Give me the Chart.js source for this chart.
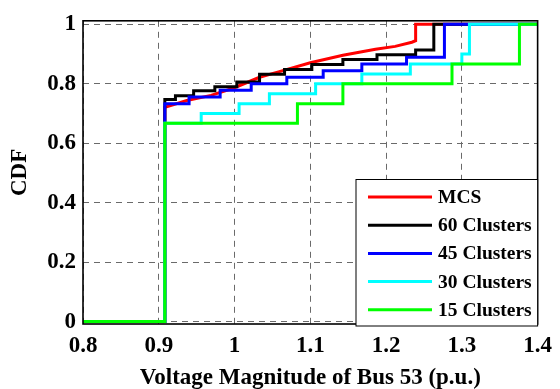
<!DOCTYPE html>
<html>
<head>
<meta charset="utf-8">
<title>CDF of bus voltage</title>
<script src="https://cdn.jsdelivr.net/npm/chart.js@4.4.0/dist/chart.umd.min.js"></script>
<style>
  html, body { margin: 0; padding: 0; background: #fff; }
  canvas { display: block; }
</style>
</head>
<body>
<canvas id="cdfChart" width="560" height="389"></canvas>
<script>
// Axis ticks
const xTickValues = [0.8, 0.9, 1.0, 1.1, 1.2, 1.3, 1.4];
const xTickLabels = ['0.8', '0.9', '1', '1.1', '1.2', '1.3', '1.4'];
const yTickValues = [0, 0.2, 0.4, 0.6, 0.8, 1];
const yTickLabels = ['0', '0.2', '0.4', '0.6', '0.8', '1'];

// Series names (legend order) and colours
const seriesNames = ['MCS', '60 Clusters', '45 Clusters', '30 Clusters', '15 Clusters'];
const seriesColors = ['#ff0000', '#000000', '#0000ff', '#00ffff', '#00ff00'];

// MCS empirical CDF: voltage (p.u.) and cumulative probability
const mcsVolt = [0.8, 0.908, 0.908, 0.937, 0.969, 0.999, 1.033, 1.058, 1.1, 1.143, 1.186, 1.212, 1.234, 1.239, 1.239, 1.4];
const mcsProb = [0, 0, 0.721, 0.744, 0.761, 0.786, 0.822, 0.84, 0.871, 0.896, 0.916, 0.926, 0.94, 0.945, 1, 1];

// Clustered CDFs: voltage where each step happens and the level after it
const c60Volt = [0.8, 0.908, 0.922, 0.946, 0.974, 1.003, 1.033, 1.066, 1.102, 1.143, 1.188, 1.239, 1.263, 1.4];
const c60Prob = [0, 0.747, 0.76, 0.777, 0.79, 0.806, 0.832, 0.848, 0.865, 0.882, 0.898, 0.914, 1, 1];

const c45Volt = [0.8, 0.908, 0.940, 0.981, 1.022, 1.069, 1.117, 1.168, 1.227, 1.277, 1.4];
const c45Prob = [0, 0.733, 0.756, 0.778, 0.8, 0.822, 0.844, 0.867, 0.889, 1, 1];

const c30Volt = [0.8, 0.908, 0.956, 1.006, 1.046, 1.107, 1.168, 1.232, 1.300, 1.310, 1.4];
const c30Prob = [0, 0.667, 0.7, 0.733, 0.767, 0.8, 0.833, 0.867, 0.9, 1, 1];

const c15Volt = [0.8, 0.908, 1.083, 1.143, 1.287, 1.376, 1.4];
const c15Prob = [0, 0.667, 0.733, 0.8, 0.867, 1, 1];

const toPoints = (xs, ys) => xs.map((v, i) => ({ x: v, y: ys[i] }));
const seriesData = [
    toPoints(mcsVolt, mcsProb),
    toPoints(c60Volt, c60Prob),
    toPoints(c45Volt, c45Prob),
    toPoints(c30Volt, c30Prob),
    toPoints(c15Volt, c15Prob)
];

const FONT = '"Liberation Serif", "Times New Roman", serif';
const tickFont = { family: FONT, size: 23, weight: 'bold' };
const titleFont = { family: FONT, size: 23, weight: 'bold', lineHeight: 1 };

// Black box around the plot area
const axesBox = {
    id: 'axesBox',
    afterDatasetsDraw: (chart) => {
        const { ctx, chartArea: a } = chart;
        ctx.save();
        ctx.strokeStyle = '#000';
        ctx.lineWidth = 1.6;
        ctx.strokeRect(a.left, a.top, a.right - a.left, a.bottom - a.top);
        ctx.restore();
    }
};

// Boxed legend in the lower right corner of the axes
const boxLegend = {
    id: 'boxLegend',
    afterDraw: (chart) => {
        const { ctx, chartArea: a } = chart;
        const left = 356, top = 179.5, bottom = 326;
        ctx.save();
        ctx.fillStyle = '#fff';
        ctx.fillRect(left, top, a.right - left, bottom - top);
        ctx.strokeStyle = '#000';
        ctx.lineWidth = 1;
        ctx.strokeRect(left, top, a.right - left, bottom - top);
        ctx.font = 'bold 19.5px ' + FONT;
        ctx.textBaseline = 'middle';
        ctx.fillStyle = '#000';
        chart.data.datasets.forEach((ds, i) => {
            const rowY = 197 + i * 28.2;
            ctx.strokeStyle = ds.borderColor;
            ctx.lineWidth = 3;
            ctx.beginPath();
            ctx.moveTo(368, rowY);
            ctx.lineTo(432, rowY);
            ctx.stroke();
            ctx.fillText(ds.label, 438, rowY + 1);
        });
        ctx.restore();
    }
};

const ctx = document.getElementById('cdfChart').getContext('2d');
const cdfChart = new Chart(ctx, {
    type: 'line',
    data: {
        datasets: seriesNames.map((name, i) => ({
            label: name,
            data: seriesData[i],
            borderColor: seriesColors[i],
            backgroundColor: seriesColors[i],
            borderWidth: 3,
            borderJoinStyle: 'miter',
            pointRadius: 0,
            fill: false,
            tension: 0,
            stepped: i === 0 ? false : 'before',
            order: seriesNames.length - i // later series drawn on top
        }))
    },
    options: {
        responsive: false,
        devicePixelRatio: 1,
        animation: false,
        layout: { padding: { top: 16.7, right: 15.5, left: 0, bottom: 0 } },
        plugins: {
            legend: { display: false },
            tooltip: { enabled: false }
        },
        scales: {
            x: {
                type: 'linear',
                min: 0.8,
                max: 1.4,
                afterBuildTicks: (s) => { s.ticks = xTickValues.map(v => ({ value: v })); },
                afterFit: (s) => { s.height = 65; },
                grid: { color: '#6a6a6a', lineWidth: 1, drawTicks: false },
                border: { display: false, dash: [6, 5] },
                ticks: {
                    color: '#000',
                    font: tickFont,
                    padding: 8,
                    maxRotation: 0,
                    autoSkip: false,
                    callback: (v, i) => xTickLabels[i]
                },
                title: {
                    display: true,
                    text: 'Voltage Magnitude of Bus 53 (p.u.)',
                    color: '#000',
                    font: titleFont,
                    padding: { top: 0, bottom: -1 }
                }
            },
            y: {
                type: 'linear',
                min: -0.008,
                max: 1.012,
                afterBuildTicks: (s) => { s.ticks = yTickValues.map(v => ({ value: v })); },
                afterFit: (s) => { s.width = 83; },
                grid: { color: '#6a6a6a', lineWidth: 1, drawTicks: false },
                border: { display: false, dash: [6, 5] },
                ticks: {
                    color: '#000',
                    font: tickFont,
                    padding: 7,
                    autoSkip: false,
                    callback: (v, i) => yTickLabels[i]
                },
                title: {
                    display: true,
                    text: 'CDF',
                    color: '#000',
                    font: titleFont,
                    padding: { top: 9, bottom: 0 }
                }
            }
        }
    },
    plugins: [axesBox, boxLegend]
});
</script>
</body>
</html>
